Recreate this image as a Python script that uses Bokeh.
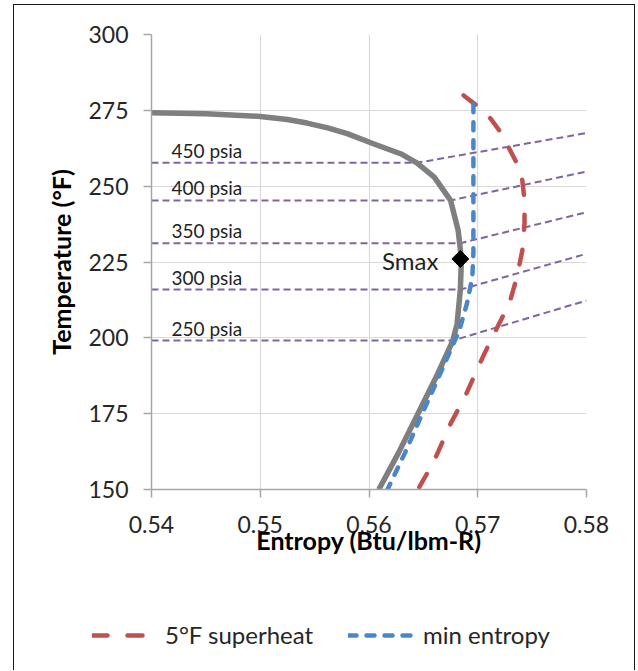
from bokeh.plotting import figure
from bokeh.models import Range1d, FixedTicker, Legend, LegendItem
from bokeh.core.properties import value
from bokeh.embed import file_html
from bokeh.resources import INLINE

FONT = "Lato"

# ---- data ----
x_ticks = [0.54, 0.55, 0.56, 0.57, 0.58]
x_tick_labels = ["0.54", "0.55", "0.56", "0.57", "0.58"]
y_ticks = [150, 175, 200, 225, 250, 275, 300]

# saturated vapour dome
dome_s = [0.5400, 0.5450, 0.5500, 0.5525, 0.5543, 0.5562, 0.5580, 0.5604, 0.5629, 0.5644,
          0.5660, 0.5675, 0.5682, 0.5685, 0.5684, 0.5681, 0.5677, 0.5663, 0.5645, 0.5627, 0.5609]
dome_T = [274.2, 273.9, 273.0, 272.0, 270.8, 269.2, 267.3, 264.0, 260.7, 257.7,
          253.0, 245.3, 235.4, 226.0, 215.9, 204.6, 199.0, 188.0, 175.0, 162.0, 150.0]

# 5 F superheat
sh_s = [0.5687, 0.5699, 0.5712, 0.5721, 0.5730, 0.5736, 0.5741, 0.5743, 0.5743, 0.5741,
        0.5736, 0.5729, 0.5718, 0.5713, 0.5706, 0.5688, 0.5675, 0.5660, 0.5645]
sh_T = [279.9, 276.6, 272.2, 267.8, 261.7, 257.5, 251.9, 245.3, 237.7, 228.8,
        220.0, 211.3, 203.5, 199.8, 194.7, 180.4, 171.7, 159.5, 150.0]

# min entropy
me_s = [0.5696, 0.5696, 0.5696, 0.5695, 0.5690, 0.5683, 0.5677, 0.5664, 0.5649, 0.5633, 0.5617]
me_T = [277.0, 250.0, 228.0, 220.0, 211.2, 202.4, 197.5, 187.0, 175.0, 162.0, 150.0]

# isobars
iso_P = [250, 300, 350, 400, 450]
iso_Tsat = [199.1, 215.9, 231.2, 245.3, 257.7]
iso_ssat = [0.5677, 0.5684, 0.5684, 0.5675, 0.5644]
iso_Tend = [212.3, 227.7, 241.4, 254.8, 267.5]

smax_s = [0.5684]
smax_T = [226.0]

legend_labels = ["5°F superheat", "min entropy"]

x_min, x_max = 0.54, 0.58
y_min, y_max = 150, 300

RED = "#c0504d"
BLUE = "#4a86c8"
PURPLE = "#8064a2"
GRAY = "#7f7f7f"
TXT = "#1f1f1f"
FRAME = "1px solid #1a1a1a"

# ---- main figure ----
p = figure(width=622, height=570, output_backend="svg", toolbar_location=None,
           x_range=Range1d(x_min, x_max), y_range=Range1d(y_min, y_max),
           min_border_left=137, min_border_right=50, min_border_top=29, min_border_bottom=86)
p.styles = {"border-left": FRAME, "border-top": FRAME, "border-right": FRAME,
            "margin-left": "13px", "margin-top": "4px"}
p.outline_line_color = None
p.background_fill_color = "white"
p.border_fill_color = "white"

p.xaxis.ticker = FixedTicker(ticks=x_ticks)
p.xaxis.major_label_overrides = {t: l for t, l in zip(x_ticks, x_tick_labels)}
p.yaxis.ticker = FixedTicker(ticks=y_ticks)
for ax in (p.xaxis[0], p.yaxis[0]):
    ax.axis_line_color = "#a6a6a6"
    ax.axis_line_width = 1.5
    ax.major_tick_line_color = "#a6a6a6"
    ax.major_tick_line_width = 1.5
    ax.major_tick_in = 0
    ax.major_tick_out = 8
    ax.minor_tick_line_color = None
    ax.major_label_text_font = FONT
    ax.major_label_text_font_size = "23px"
    ax.major_label_text_color = "#262626"
    ax.axis_label_text_font = FONT
    ax.axis_label_text_font_size = "25px"
    ax.axis_label_text_font_style = "bold"
    ax.axis_label_text_color = "#000000"
p.xaxis.axis_label = "Entropy (Btu/lbm-R)"
p.yaxis.axis_label = "Temperature (°F)"
p.xaxis.major_label_standoff = 18
p.yaxis.major_label_standoff = 15
p.xaxis.axis_label_standoff = -11
p.yaxis.axis_label_standoff = 9

p.grid.grid_line_color = "#d9d9d9"
p.grid.grid_line_width = 1.2

# isobars
for P, Ts, ss, Te in zip(iso_P, iso_Tsat, iso_ssat, iso_Tend):
    p.line([x_min, ss, x_max], [Ts, Ts, Te], line_color=PURPLE, line_width=2,
           line_dash="7 4")
p.text(x=[x_min] * len(iso_P), y=iso_Tsat, text=[f"{P} psia" for P in iso_P],
       x_offset=20, y_offset=-1, text_baseline="bottom", text_align="left",
       text_font=value(FONT), text_font_size="19px", text_color=TXT)

# dome
p.line(dome_s, dome_T, line_color=GRAY, line_width=5.5, line_join="round")

# superheat & min entropy
line_sh = dict(line_color=RED, line_width=4.5, line_dash="15 20", line_cap="round")
line_me = dict(line_color=BLUE, line_width=4.5, line_dash="8 10", line_cap="round")
p.line(sh_s, sh_T, **line_sh)
p.line(me_s, me_T, **line_me)

# Smax
p.scatter(smax_s, smax_T, marker="square", angle=0.785398, size=12,
          fill_color="black", line_color="black")
p.text(x=smax_s, y=smax_T, text=["Smax"], x_offset=-22, y_offset=2,
       text_align="right", text_baseline="middle", text_font=value(FONT),
       text_font_size="24px", text_color=TXT)

# ---- legend strip (separate root, frame spans the full strip) ----
p2 = figure(width=622, height=96, output_backend="svg", toolbar_location=None,
            x_axis_location=None, y_axis_location=None, min_border=0,
            x_range=Range1d(0, 1), y_range=Range1d(0, 1))
p2.styles = {"border-left": FRAME, "border-right": FRAME, "margin-left": "13px"}
p2.grid.visible = False
p2.outline_line_color = None
p2.background_fill_alpha = 0
p2.border_fill_alpha = 0
# legend proxies (single NaN point, nothing visible in the strip)
r_sh = p2.line(x=[float("nan")], y=[float("nan")], **line_sh)
r_me = p2.line(x=[float("nan")], y=[float("nan")], **line_me)

common = dict(padding=0, margin=0, border_line_color=None, background_fill_alpha=0,
              label_text_font=FONT, label_text_font_size="24px", label_text_color="#262626",
              label_height=28, glyph_height=28)
leg1 = Legend(items=[LegendItem(label=legend_labels[0], renderers=[r_sh])],
              location=(78, 21), glyph_width=53, label_standoff=20, **common)
leg2 = Legend(items=[LegendItem(label=legend_labels[1], renderers=[r_me])],
              location=(334, 21), glyph_width=67, label_standoff=8, **common)
p2.add_layout(leg1)
p2.add_layout(leg2)

open("out.html", "w").write(file_html([p, p2], INLINE))
